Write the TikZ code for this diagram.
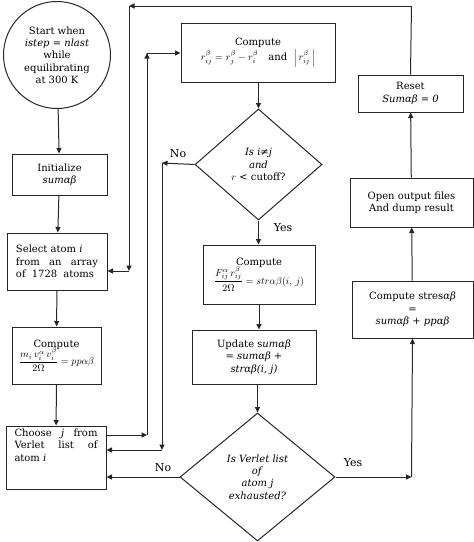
\documentclass[tikz,border=0pt]{standalone}
\usepackage{fontspec}
\setmainfont{DejaVu Serif}
\usetikzlibrary{arrows.meta,shapes.geometric}
\begin{document}
\begin{tikzpicture}[x=1pt,y=-1pt,
  txt/.style={font=\fontsize{10}{12.3}\selectfont},
  box/.style={txt,draw=black!85,line width=1pt,rectangle,inner sep=1pt,align=center},
  dia/.style={txt,draw=black!85,line width=1pt,diamond,inner sep=0pt,align=center},
  arr/.style={draw=black!85,line width=1pt,-{Triangle[length=5.5pt,width=5pt]}},
  ln/.style={draw=black!85,line width=1pt},
  lab/.style={font=\fontsize{11}{12}\selectfont}
]
\useasboundingbox (0,0) rectangle (474,542);
% left column
\node[box,circle,minimum size=107pt] (start) at (57,55)
  {Start when\\ \textit{istep = nlast}\\ while\\ equilibrating\\ at 300 K};
\node[box,minimum width=95pt,minimum height=41pt] (init) at (59.5,174.5)
  {Initialize\\ \textit{sumαβ}};
\node[box,minimum width=100pt,minimum height=57pt,inner sep=0pt] (select) at (57,261.5)
  {\parbox{82pt}{Select atom \textit{i}\\ \makebox[82pt][s]{from an array}\\ \makebox[78pt][s]{of 1728 atoms}}};
\node[box,minimum width=89pt,minimum height=57pt] (pp) at (56.5,355.5)
  {Compute\\[-2pt] $\displaystyle\frac{m_i\,v_i^{\alpha}\,v_i^{\beta}}{2\Omega} = pp\alpha\beta$};
\node[box,minimum width=100pt,minimum height=63pt,inner sep=0pt] (choose) at (56,457.5)
  {\parbox[t][57pt][t]{83pt}{\makebox[83pt][s]{Choose \textit{j} from}\\ \makebox[83pt][s]{Verlet list of}\\ atom \textit{i}}};
% middle column
\node[box,minimum width=154pt,minimum height=59pt] (rij) at (258,52.5)
  {Compute\\[1pt] $r_{ij}^{\beta} = r_{j}^{\beta} - r_{i}^{\beta}$\quad and\ \ $\left|\,r_{ij}^{\beta}\,\right|$};
\node[dia,minimum width=127pt,minimum height=111pt] (d1) at (258.5,164.5)
  {\textit{Is i≠j}\\ \textit{and}\\ $r$ < cutoff?};
\node[box,minimum width=112pt,minimum height=59pt] (fbox) at (259,274.5)
  {Compute\\[-2pt] $\displaystyle\frac{F_{ij}^{\alpha}\,r_{ij}^{\beta}}{2\Omega} = str\alpha\beta(i,\,j)$};
\node[box,minimum width=124pt,minimum height=54pt] (upd) at (254,357)
  {Update s\textit{umαβ}\\ = \textit{sumαβ} +\\ \textit{strαβ(i, j)}};
\node[dia,minimum width=155pt,minimum height=128pt] (d2) at (257.5,477)
  {\textit{Is Verlet list}\\ \textit{of}\\ \textit{atom j}\\ \textit{exhausted?}};
% right column
\node[box,minimum width=121pt,minimum height=57pt] (stres) at (412.5,309.5)
  {Compute stres\textit{αβ}\\ =\\ \textit{sumαβ + ppαβ}};
\node[box,minimum width=123pt,minimum height=49pt] (open) at (411.5,202.5)
  {Open output files\\ And dump result};
\node[box,minimum width=105pt,minimum height=37pt] (reset) at (410.5,93.5)
  {Reset\\ \textit{Sumαβ = 0}};
% coordinates
\coordinate (t1) at (411.5,6);
\coordinate (t2) at (129,6);
\coordinate (t3) at (129,271);
\coordinate (c1) at (147,435);
\coordinate (c2) at (147,53);
\coordinate (n1) at (162,163);
\coordinate (n2) at (162,450);
\coordinate (y1) at (411.5,477);
% straight arrows
\draw[arr] (start) -- (init);
\draw[arr] (init) -- (select);
\draw[arr] (select) -- (pp);
\draw[arr] (pp) -- (choose);
\draw[arr] (rij.south -| d1.north) -- (d1.north);
\draw[arr] (d1.south) -- (d1.south |- fbox.north);
\draw[arr] (fbox.south) -- (fbox.south |- upd.north);
\draw[arr] (upd.south -| d2.north) -- (d2.north);
\draw[arr] (stres) -- (open);
\draw[arr] (open) -- (reset);
% outer loop
\draw[ln] (reset.north) -- (t1);
\draw[arr] (t1) -- (t2);
\draw[arr] (t2) -- (t3);
\draw[arr] (t3) -- (select.east |- t3);
% inner loop
\draw[arr] (choose.east |- c1) -- (c1);
\draw[arr] (c1) -- (c2);
\draw[arr] (c2) -- (rij.west |- c2);
% No from d1
\draw[arr] (d1.west) -- (n1);
\draw[arr] (n1) -- (n2);
\draw[arr] (n2) -- (choose.east |- n2);
% No from d2
\draw[arr] (d2.west) -- (choose.east |- d2.west);
% Yes from d2
\draw[arr] (d2.east) -- (y1);
\draw[arr] (y1) -- (stres.south);
% labels
\node[lab] (no1) at (178,154) {No};
\node[lab] (yes1) at (283,228) {Yes};
\node[lab] (no2) at (163,468) {No};
\node[lab] (yes2) at (353,463) {Yes};
\end{tikzpicture}
\end{document}
